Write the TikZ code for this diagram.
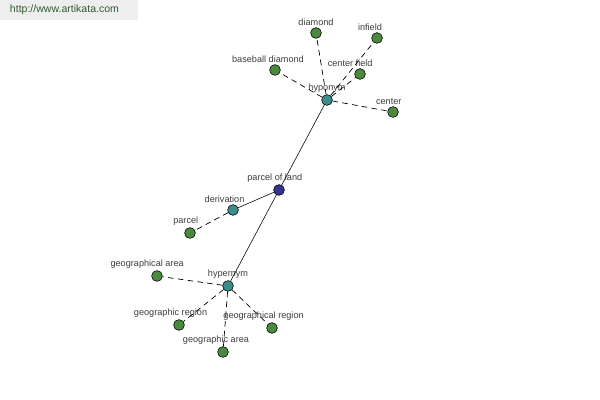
\documentclass[tikz,border=0pt]{standalone}
\usepackage{fontspec}
\setmainfont{Liberation Sans}
\usepackage{tikz}
\usetikzlibrary{positioning}

\definecolor{leafgreen}{RGB}{74,138,62}
\definecolor{hubteal}{RGB}{60,140,140}
\definecolor{rootblue}{RGB}{52,52,140}
\definecolor{wmgray}{RGB}{238,238,238}
\definecolor{wmtext}{RGB}{50,90,50}
\definecolor{lbltext}{RGB}{60,60,60}

\begin{document}
\begin{tikzpicture}[x=0.025cm, y=-0.025cm, every node/.style={font=\fontsize{6.5}{7.5}\selectfont},
  dot/.style={circle, draw=black, line width=0.4pt, inner sep=0pt, minimum size=0.27cm},
  leaf/.style={dot, fill=leafgreen},
  hub/.style={dot, fill=hubteal},
  root/.style={dot, fill=rootblue},
  lbl/.style={text=lbltext, inner sep=1pt},
  rel/.style={draw=black, line width=0.5pt, dash pattern=on 4pt off 3pt}]
  \useasboundingbox (0,0) rectangle (600,400);
  \fill[wmgray] (0,0) rectangle (138,20);
  \node (wm) [text=wmtext, anchor=west, font=\fontsize{7.5}{9}\selectfont] at (5,10) {http://www.artikata.com};

  \node (land) [root, label={[lbl, xshift=-3]above:parcel of land}] at (279,190) {};
  \node (hypo) [hub, label={[lbl]above:hyponym}] at (327,100) {};
  \node (hyper) [hub, label={[lbl]above:hypernym}] at (228,286) {};
  \node (deriv) [hub, label={[lbl, xshift=-6]above:derivation}] at (233,210) {};

  \node (diamond) [leaf, label={[lbl]above:diamond}] at (316,33) {};
  \node (infield) [leaf, label={[lbl, xshift=-5]above:infield}] at (377,38) {};
  \node (baseball) [leaf, label={[lbl, xshift=-5]above:baseball diamond}] at (275,70) {};
  \node (cfield) [leaf, label={[lbl, xshift=-7]above:center field}] at (360,74) {};
  \node (center) [leaf, label={[lbl, xshift=-3]above:center}] at (393,112) {};
  \node (parcel) [leaf, label={[lbl, xshift=-3]above:parcel}] at (190,233) {};
  \node (garea) [leaf, label={[lbl, xshift=-7]above:geographical area}] at (157,276) {};
  \node (gregion) [leaf, label={[lbl, xshift=-6]above:geographic region}] at (179,325) {};
  \node (gregion2) [leaf, label={[lbl, xshift=-6]above:geographical region}] at (272,328) {};
  \node (garea2) [leaf, label={[lbl, xshift=-5]above:geographic area}] at (223,352) {};

  \draw (land) -- (hypo);
  \draw (land) -- (hyper);
  \draw (land) -- (deriv);

  \draw [rel] (hypo) -- (diamond);
  \draw [rel] (hypo) -- (infield);
  \draw [rel] (hypo) -- (baseball);
  \draw [rel] (hypo) -- (cfield);
  \draw [rel] (hypo) -- (center);
  \draw [rel] (deriv) -- (parcel);
  \draw [rel] (hyper) -- (garea);
  \draw [rel] (hyper) -- (gregion);
  \draw [rel] (hyper) -- (gregion2);
  \draw [rel] (hyper) -- (garea2);
\end{tikzpicture}
\end{document}
